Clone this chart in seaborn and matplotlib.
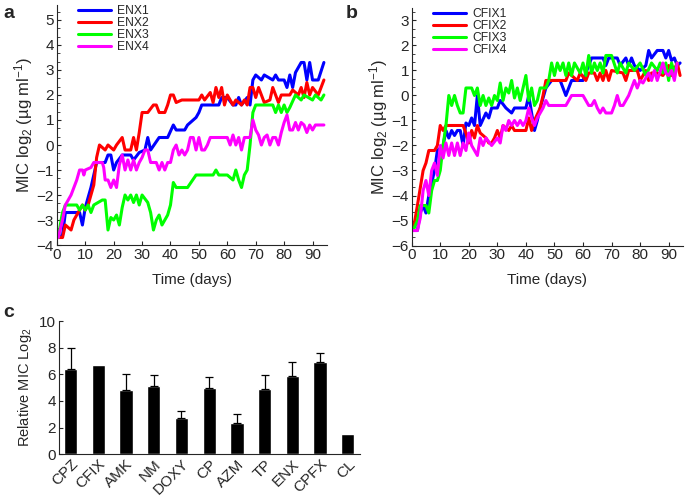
import pandas as pd
import numpy as np
import matplotlib
matplotlib.use("Agg")
import matplotlib.pyplot as plt
import seaborn as sns
from matplotlib.ticker import AutoMinorLocator

# ---- panel a: ENX lines (day, log2 MIC) ----
enx1_d = [0.5, 2, 3, 8, 9, 10, 12, 14, 17, 18, 19, 20, 21, 23, 26, 27, 29, 31, 32, 33, 36, 39, 41, 42, 45, 46, 49, 50, 51, 57, 58, 60, 62, 63, 64, 65, 67, 68, 69, 70, 72, 73, 76, 77, 78, 80, 81, 82, 83, 84, 86, 87, 88, 89, 90, 92, 94]
enx1_v = [-3.7, -3.6, -2.7, -2.7, -3.2, -2.5, -1.7, -0.7, -0.7, -0.4, -0.4, -1.0, -0.7, -0.4, -0.4, -0.6, -0.3, -0.2, 0.3, -0.2, 0.3, 0.3, 0.8, 0.6, 0.6, 0.8, 1.1, 1.3, 1.6, 1.6, 1.9, 1.9, 1.6, 1.6, 1.9, 1.6, 1.9, 1.6, 2.6, 2.8, 2.6, 2.8, 2.6, 2.8, 2.6, 2.6, 2.3, 2.8, 2.3, 2.9, 3.3, 3.3, 2.6, 3.3, 2.6, 2.6, 3.3]

enx2_d = [0.5, 2, 3, 5, 6, 8, 9, 10, 11, 13, 14, 15, 17, 18, 20, 21, 23, 24, 26, 27, 28, 29, 30, 32, 34, 35, 36, 38, 39, 40, 41, 42, 44, 50, 51, 52, 54, 55, 56, 57, 58, 59, 60, 61, 62, 63, 65, 66, 67, 68, 69, 70, 71, 73, 75, 76, 78, 79, 82, 83, 85, 86, 87, 88, 89, 90, 92, 94]
enx2_v = [-3.7, -3.7, -3.2, -3.4, -3.0, -2.6, -2.4, -2.6, -2.4, -1.6, -0.5, 0.0, -0.2, 0.0, -0.2, 0.0, 0.3, -0.2, -0.2, 0.3, -0.2, 0.5, 1.3, 1.3, 1.6, 1.6, 1.3, 1.3, 1.6, 2.0, 2.0, 1.7, 1.8, 1.8, 2.0, 1.8, 2.1, 1.7, 2.3, 1.9, 2.3, 1.6, 2.0, 1.8, 1.6, 1.8, 1.6, 1.8, 1.6, 2.3, 2.3, 1.9, 2.3, 1.7, 1.8, 2.3, 1.7, 2.0, 2.0, 2.2, 2.0, 2.3, 1.9, 2.5, 2.0, 2.3, 2.0, 2.6]

enx3_d = [0.5, 1.5, 2, 3, 7, 8, 9, 10, 11, 12, 13, 16, 17, 18, 19, 20, 21, 22, 23, 24, 25, 26, 27, 28, 29, 30, 32, 33, 34, 35, 36, 37, 38, 39, 40, 41, 42, 46, 49, 55, 56, 57, 60, 62, 63, 64, 65, 66, 67, 68, 69, 70, 76, 77, 78, 79, 80, 81, 82, 84, 86, 87, 90, 91, 93, 94]
enx3_v = [-3.7, -3.0, -2.7, -2.4, -2.4, -2.6, -2.4, -2.6, -2.4, -2.7, -2.4, -2.2, -2.2, -3.4, -2.9, -3.0, -2.8, -3.2, -2.5, -2.0, -2.2, -2.0, -2.3, -2.0, -2.4, -2.0, -2.3, -2.7, -3.4, -3.0, -2.8, -3.2, -3.0, -2.8, -2.4, -1.5, -1.7, -1.7, -1.2, -1.2, -1.0, -1.2, -1.2, -1.4, -1.0, -1.4, -1.7, -1.2, -1.0, 0.0, 1.3, 1.6, 1.6, 1.3, 1.6, 1.3, 1.6, 1.3, 1.5, 2.0, 1.8, 2.0, 1.8, 2.0, 1.8, 2.0]

enx4_d = [0.5, 2, 3, 5, 6, 7, 8, 9, 9.5, 10, 12, 13, 16, 16.5, 17, 18, 19, 20, 21, 22, 23, 24, 25, 26, 27, 28, 29, 30, 31, 32, 33, 35, 36, 37, 38, 39, 40, 41, 42, 43, 44, 45, 46, 47, 48, 49, 50, 51, 52, 53, 54, 60, 61, 62, 63, 64, 65, 66, 68, 69, 70, 71, 72, 73, 74, 75, 76, 77, 78, 79, 80, 81, 82, 83, 84, 85, 86, 87, 88, 89, 90, 91, 94]
enx4_v = [-3.7, -3.0, -2.4, -2.0, -1.7, -1.4, -1.0, -1.0, -1.2, -1.0, -0.9, -0.7, -0.7, -0.9, -1.4, -1.4, -1.7, -1.4, -1.7, -0.8, -0.4, -1.0, -0.6, -1.0, -0.6, -1.0, -0.7, -0.5, -0.2, -0.2, -0.7, -0.7, -1.0, -0.7, -1.0, -0.7, -0.7, -0.2, 0.0, -0.4, -0.2, -0.4, -0.2, 0.3, 0.3, -0.2, 0.3, -0.2, -0.2, 0.0, 0.3, 0.3, 0.0, 0.4, 0.0, 0.3, -0.2, 0.3, 0.3, 1.0, 0.6, 0.4, 0.0, 0.3, 0.4, 0.0, 0.3, 0.3, 0.0, 0.5, 0.9, 1.2, 0.6, 0.6, 0.9, 0.6, 0.9, 0.8, 0.5, 0.8, 0.6, 0.8, 0.8]

# ---- panel b: CFIX lines ----
cfix1_d = [0.5, 2, 3, 4, 5, 6, 8, 9, 11, 12, 13, 14, 15, 16, 17, 18, 19, 20, 21, 22, 23, 24, 26, 27, 28, 30, 31, 33, 35, 36, 40, 41, 43, 44, 45, 47, 49, 52, 54, 56, 60, 61, 62, 63, 67, 68, 69, 72, 73, 75, 76, 77, 78, 80, 82, 83, 84, 86, 88, 89, 90, 91, 92, 93, 94]
cfix1_v = [-5.4, -5.4, -4.7, -4.4, -4.7, -4.0, -3.0, -2.2, -2.0, -1.4, -1.7, -1.4, -1.6, -1.4, -1.4, -2.0, -1.1, -1.2, -0.9, -1.2, 0.0, -1.2, -0.7, -0.9, -0.5, -0.5, -0.2, -0.5, -0.7, -0.5, -0.5, 0.0, -1.4, -1.0, -0.5, 0.3, 0.6, 0.6, 0.0, 0.6, 0.6, 0.9, 1.2, 1.5, 1.5, 1.2, 1.5, 1.5, 1.2, 1.5, 1.2, 1.5, 1.2, 1.0, 1.2, 1.8, 1.5, 1.8, 1.8, 1.5, 1.8, 1.4, 1.5, 1.2, 1.3]

cfix2_d = [0.5, 2, 4, 5, 6, 8, 9, 10, 11, 12, 18, 19, 20, 21, 22, 23, 24, 26, 27, 28, 29, 30, 31, 32, 34, 35, 36, 40, 41, 42, 43, 45, 46, 47, 54, 55, 58, 59, 61, 62, 64, 65, 66, 67, 68, 69, 70, 74, 75, 76, 79, 80, 82, 83, 84, 86, 88, 90, 91, 93, 94]
cfix2_v = [-5.4, -4.4, -3.0, -2.7, -2.2, -2.2, -2.0, -1.2, -1.4, -1.2, -1.2, -1.5, -1.9, -1.4, -1.7, -1.2, -1.5, -1.7, -1.9, -1.9, -1.7, -1.4, -1.7, -1.2, -1.4, -1.2, -1.4, -1.4, -0.9, -1.4, -1.0, -0.5, 0.0, 0.6, 0.6, 0.9, 0.6, 0.9, 0.6, 0.9, 0.9, 0.6, 0.9, 0.6, 1.0, 0.6, 1.0, 0.9, 0.6, 1.0, 1.0, 0.6, 1.0, 0.6, 0.9, 0.9, 0.8, 1.2, 0.8, 1.3, 0.8]

cfix3_d = [0.5, 2, 3, 5, 6, 7, 8, 9, 10, 11, 12, 13, 14, 15, 16, 17, 18, 19, 21, 22, 23, 24, 25, 26, 27, 28, 29, 30, 31, 32, 33, 34, 35, 36, 37, 38, 39, 40, 41, 42, 43, 44, 45, 47, 48, 49, 50, 51, 52, 53, 54, 55, 56, 57, 59, 60, 61, 62, 63, 64, 65, 66, 67, 68, 70, 72, 73, 75, 76, 78, 80, 82, 84, 86, 87, 88, 89, 90, 91, 92, 93]
cfix3_v = [-5.4, -5.0, -4.4, -4.4, -4.7, -3.8, -3.4, -3.4, -3.0, -2.0, -1.2, 0.0, -0.4, 0.0, -0.4, -0.7, -0.7, 0.3, 0.3, 0.0, 0.3, -0.4, 0.0, -0.4, -0.1, -0.4, 0.0, -0.2, 0.5, -0.2, 0.3, 0.1, 0.6, -0.1, 0.3, -0.2, 0.3, 0.8, -0.2, 0.3, -0.4, -0.2, 0.3, 0.3, 0.6, 1.3, 0.8, 1.3, 1.0, 1.3, 0.8, 1.3, 0.8, 1.3, 0.9, 1.3, 0.8, 1.6, 0.9, 1.3, 1.0, 1.3, 0.9, 1.6, 1.6, 0.9, 1.3, 0.9, 1.3, 1.0, 1.3, 0.8, 1.3, 1.0, 1.3, 0.9, 1.3, 0.6, 1.3, 0.9, 1.3]

cfix4_d = [0.5, 2, 3, 4, 5, 6, 7, 8, 9, 10, 11, 12, 13, 14, 15, 16, 17, 18, 19, 20, 21, 22, 23, 24, 25, 26, 28, 30, 31, 32, 33, 34, 35, 36, 37, 38, 39, 40, 41, 42, 43, 44, 45, 46, 47, 48, 54, 55, 56, 60, 61, 62, 63, 64, 65, 66, 67, 68, 70, 71, 72, 73, 74, 75, 76, 77, 78, 79, 80, 81, 83, 84, 85, 86, 88, 89, 90, 91, 92, 93]
cfix4_v = [-5.4, -5.4, -4.9, -3.8, -3.4, -4.0, -3.0, -2.7, -3.2, -2.0, -2.5, -1.9, -2.4, -1.9, -2.4, -1.9, -2.4, -1.9, -2.2, -1.5, -2.0, -2.2, -2.4, -1.7, -2.0, -1.7, -2.0, -1.7, -1.9, -1.2, -1.4, -1.0, -1.2, -1.0, -1.2, -1.0, -1.2, -1.0, -0.5, -0.9, -1.2, -0.9, -0.7, -0.5, -0.2, -0.4, -0.4, -0.2, 0.0, 0.0, -0.2, -0.4, -0.4, -0.2, -0.5, -0.7, -0.5, -0.7, -0.7, -0.4, 0.0, -0.4, -0.4, -0.2, 0.0, 0.3, 0.6, 0.3, 0.6, 0.5, 0.9, 0.6, 1.0, 0.6, 1.3, 0.9, 0.8, 1.0, 0.6, 1.3]

# ---- panel c: bars ----
drugs = ["CPZ", "CFIX", "AMK", "NM", "DOXY", "CP", "AZM", "TP", "ENX", "CPFX", "CL"]
rel_mic = [6.4, 6.7, 4.8, 5.15, 2.75, 4.95, 2.35, 4.9, 5.9, 6.9, 1.5]
rel_err = [1.6, 0.0, 1.2, 0.8, 0.5, 0.85, 0.7, 1.05, 1.05, 0.7, 0.0]

colors = ["#0000ff", "#ff0000", "#00ff00", "#ff00ff"]


def long_df(names, days, vals):
    parts = []
    for n, d, v in zip(names, days, vals):
        parts.append(pd.DataFrame({"day": d, "mic": v, "strain": n}))
    return pd.concat(parts, ignore_index=True)


df_a = long_df(["ENX1", "ENX2", "ENX3", "ENX4"],
               [enx1_d, enx2_d, enx3_d, enx4_d],
               [enx1_v, enx2_v, enx3_v, enx4_v])
df_b = long_df(["CFIX1", "CFIX2", "CFIX3", "CFIX4"],
               [cfix1_d, cfix2_d, cfix3_d, cfix4_d],
               [cfix1_v, cfix2_v, cfix3_v, cfix4_v])

sns.set_style("ticks")
plt.rcParams["font.family"] = ["Liberation Sans", "DejaVu Sans"]
plt.rcParams["mathtext.default"] = "regular"

fig = plt.figure(figsize=(6.85, 4.98), dpi=100)
ax_a = fig.add_axes([0.083, 0.508, 0.394, 0.482])
ax_b = fig.add_axes([0.601, 0.507, 0.396, 0.477])
ax_c = fig.add_axes([0.086, 0.088, 0.44, 0.267])

ylab = "MIC log$_2$ (µg ml$^{-1}$)"

for ax, df, ylim, yticks in [(ax_a, df_a, (-4, 5.6), range(-4, 6)),
                             (ax_b, df_b, (-6, 3.5), range(-6, 4))]:
    sns.lineplot(data=df, x="day", y="mic", hue="strain", palette=colors,
                 estimator=None, sort=True, linewidth=2.2, ax=ax)
    ax.set_xlim(0, 95)
    ax.set_ylim(*ylim)
    ax.set_xticks(range(0, 100, 10))
    ax.set_yticks(list(yticks))
    ax.yaxis.set_minor_locator(AutoMinorLocator(3))
    ax.tick_params(direction="in", labelsize=11, length=3, width=0.8, pad=2)
    ax.tick_params(which="minor", direction="in", length=2, width=0.6)
    ax.set_xlabel("Time (days)", fontsize=11, labelpad=8)
    ax.set_ylabel(ylab, fontsize=12, labelpad=1)
    ax.legend(frameon=False, loc="upper left", bbox_to_anchor=(0.062, 1.02),
              fontsize=8.7, handlelength=2.7, labelspacing=0.0,
              handletextpad=0.5, borderaxespad=0)
    sns.despine(ax=ax)

bar_df = pd.DataFrame({"drug": drugs, "mic": rel_mic})
sns.barplot(data=bar_df, x="drug", y="mic", color="black", width=0.48,
            saturation=1, ax=ax_c)
# upper error bars only, and only where an error is shown
idx = [i for i, e in enumerate(rel_err) if e > 0]
ax_c.errorbar(idx, [rel_mic[i] for i in idx],
              yerr=[np.zeros(len(idx)), [rel_err[i] for i in idx]],
              fmt="none", ecolor="black", elinewidth=0.9, capsize=3, capthick=0.9)
ax_c.set_xlim(-0.42, 10.45)
ax_c.set_ylim(0, 10)
ax_c.set_yticks(range(0, 11, 2))
ax_c.tick_params(axis="y", direction="in", labelsize=11, length=3, pad=2)
ax_c.tick_params(axis="x", length=0, labelsize=11, pad=2)
for lab in ax_c.get_xticklabels():
    lab.set_rotation(45)
    lab.set_ha("right")
    lab.set_rotation_mode("anchor")
ax_c.set_xlabel("")
ax_c.set_ylabel("Relative MIC Log$_2$", fontsize=10.5)
sns.despine(ax=ax_c)

fig.text(0.005, 0.99, "a", fontsize=14, fontweight="bold", va="top")
fig.text(0.505, 0.99, "b", fontsize=14, fontweight="bold", va="top")
fig.text(0.005, 0.39, "c", fontsize=14, fontweight="bold", va="top")

fig.savefig("out.png", dpi=100)
